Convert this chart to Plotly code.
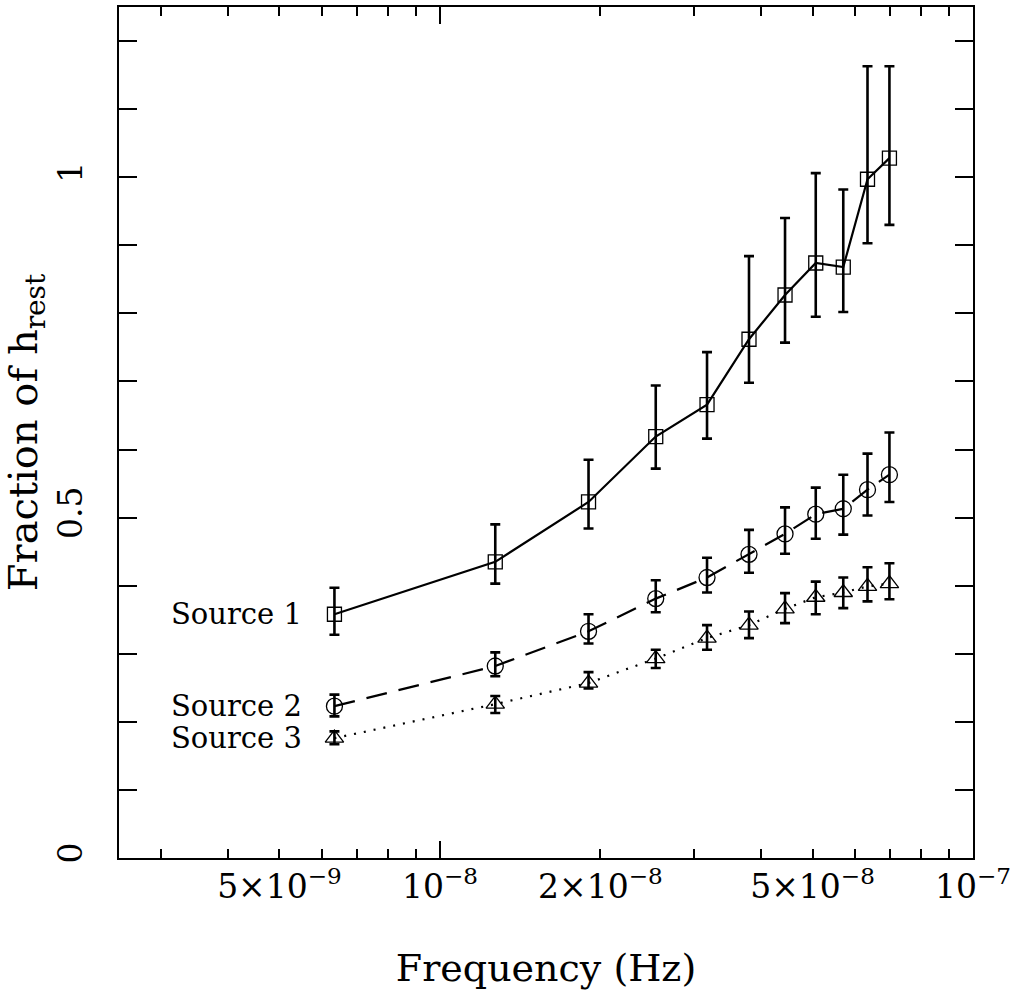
import math
import plotly.graph_objects as go

# ---- data ----
freq = [6.34e-9, 1.27e-8, 1.90e-8, 2.54e-8, 3.17e-8, 3.80e-8, 4.44e-8, 5.07e-8, 5.71e-8, 6.34e-8, 6.97e-8]

src1_y = [0.358, 0.435, 0.523, 0.619, 0.666, 0.762, 0.827, 0.874, 0.868, 0.997, 1.028]
src1_hi = [0.397, 0.490, 0.585, 0.694, 0.743, 0.884, 0.940, 1.006, 0.982, 1.163, 1.163]
src1_lo = [0.328, 0.403, 0.484, 0.572, 0.616, 0.698, 0.757, 0.795, 0.802, 0.903, 0.930]

src2_y = [0.223, 0.282, 0.333, 0.381, 0.412, 0.446, 0.476, 0.505, 0.513, 0.541, 0.563]
src2_hi = [0.240, 0.302, 0.358, 0.408, 0.441, 0.482, 0.515, 0.544, 0.563, 0.594, 0.625]
src2_lo = [0.208, 0.267, 0.315, 0.361, 0.390, 0.419, 0.447, 0.469, 0.475, 0.503, 0.523]

src3_y = [0.176, 0.226, 0.257, 0.293, 0.323, 0.342, 0.366, 0.383, 0.390, 0.399, 0.403]
src3_hi = [0.186, 0.238, 0.273, 0.306, 0.342, 0.362, 0.389, 0.406, 0.412, 0.427, 0.433]
src3_lo = [0.167, 0.213, 0.249, 0.279, 0.306, 0.323, 0.345, 0.358, 0.367, 0.377, 0.380]

series_names = ["Source 1", "Source 2", "Source 3"]

x_label_vals = [5e-9, 1e-8, 2e-8, 5e-8, 1e-7]
x_label_text = ["5\u00d710<sup>\u22129</sup>", "10<sup>\u22128</sup>", "2\u00d710<sup>\u22128</sup>",
                "5\u00d710<sup>\u22128</sup>", "10<sup>\u22127</sup>"]
x_major_ticks = [1e-8, 1e-7]
x_minor_ticks = [3e-9, 4e-9, 5e-9, 6e-9, 7e-9, 8e-9, 9e-9,
                 2e-8, 3e-8, 4e-8, 5e-8, 6e-8, 7e-8, 8e-8, 9e-8]
y_label_vals = [0, 0.5, 1]
y_label_text = ["0", "0.5", "1"]

x_min, x_max = 2.5e-9, 1e-7
y_min, y_max = 0.0, 1.25

FONT = "DejaVu Serif"

fig = go.Figure()

styles = [
    dict(symbol="square-open", size=14, dash="solid"),
    dict(symbol="circle-open", size=16, dash="21px,12px"),
    dict(symbol="triangle-up-open", size=16, dash="2px,8px"),
]
ys = [src1_y, src2_y, src3_y]
his = [src1_hi, src2_hi, src3_hi]
los = [src1_lo, src2_lo, src3_lo]

for name, y, hi, lo, st in zip(series_names, ys, his, los, styles):
    fig.add_trace(go.Scatter(
        x=freq, y=y, name=name, mode="lines+markers",
        line=dict(color="black", width=2.2, dash=st["dash"]),
        marker=dict(symbol=st["symbol"], size=st["size"], color="black",
                    line=dict(color="black", width=1.3)),
        error_y=dict(type="data", symmetric=False,
                     array=[h - v for h, v in zip(hi, y)],
                     arrayminus=[v - l for v, l in zip(y, lo)],
                     color="black", thickness=2.6, width=5),
        showlegend=False,
    ))
    fig.add_annotation(
        x=math.log10(freq[0]), y=y[0], xref="x", yref="y",
        text=name, showarrow=False, xanchor="right", yanchor="middle",
        xshift=-30, font=dict(family=FONT, size=29, color="black"),
    )

# invisible trace so the label axis is created
fig.add_trace(go.Scatter(x=[], y=[], xaxis="x2", yaxis="y", showlegend=False))

fig.update_layout(
    width=1023, height=990,
    margin=dict(l=119, r=50, t=5, b=132),
    paper_bgcolor="white", plot_bgcolor="white",
    font=dict(family=FONT, color="black"),
    xaxis=dict(
        type="log", range=[math.log10(x_min), math.log10(x_max)],
        tickmode="array", tickvals=x_major_ticks, showticklabels=False,
        ticks="inside", ticklen=17, tickwidth=2, tickcolor="black",
        minor=dict(tickmode="array", tickvals=x_minor_ticks, ticks="inside",
                   ticklen=9, tickwidth=2, tickcolor="black", showgrid=False),
        showline=True, linecolor="black", linewidth=2, mirror="allticks",
        showgrid=False, zeroline=False,
        title=dict(text="Frequency (Hz)", font=dict(family=FONT, size=38, color="black"),
                   standoff=97),
    ),
    xaxis2=dict(
        type="log", range=[math.log10(x_min), math.log10(x_max)],
        overlaying="x", anchor="y", side="bottom",
        tickmode="array", tickvals=x_label_vals, ticktext=x_label_text,
        ticks="", showline=False, showgrid=False, zeroline=False,
        tickfont=dict(family=FONT, size=33, color="black"),
        ticklabelstandoff=6,
    ),
    yaxis=dict(
        range=[y_min, y_max],
        tickmode="array", tickvals=y_label_vals, ticktext=y_label_text,
        tickangle=-90,
        ticks="inside", ticklen=18, tickwidth=2, tickcolor="black",
        minor=dict(dtick=0.1, ticks="inside", ticklen=10, tickwidth=2,
                   tickcolor="black", showgrid=False),
        showline=True, linecolor="black", linewidth=2, mirror="allticks",
        showgrid=False, zeroline=False,
        tickfont=dict(family=FONT, size=33, color="black"),
        ticklabelstandoff=22,
        title=dict(text="Fraction of h<sub>rest</sub>",
                   font=dict(family=FONT, size=40, color="black"), standoff=17),
    ),
)

fig.write_html("out.html", config={"displayModeBar": False},
               post_script="document.body.style.margin='0';")
